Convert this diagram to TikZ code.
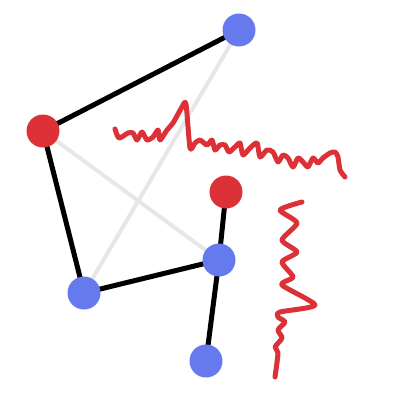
\documentclass[tikz,border=0pt]{standalone}
\definecolor{nblue}{RGB}{102,122,238}
\definecolor{nred}{RGB}{220,50,55}
\definecolor{lgray}{RGB}{232,230,230}
\begin{document}
\begin{tikzpicture}[x=1pt,y=-1pt,
  vb/.style={circle,fill=nblue,inner sep=0pt,minimum size=33pt},
  vr/.style={circle,fill=nred,inner sep=0pt,minimum size=33pt},
  edge/.style={black,line width=5pt},
  faint/.style={lgray,line width=4pt},
  scrib/.style={nred,line width=5pt,line cap=round,line join=round}]
\useasboundingbox (0,0) rectangle (400,400);
\coordinate (v1) at (239,30);
\coordinate (v2) at (43,131);
\coordinate (v3) at (226,192);
\coordinate (v4) at (219,260);
\coordinate (v5) at (84,293);
\coordinate (v6) at (206,361);
\draw[faint] (v2) -- (v4);
\draw[faint] (v5) -- (v1);
\draw[edge] (v2) -- (v1);
\draw[edge] (v2) -- (v5);
\draw[edge] (v5) -- (v4);
\draw[edge] (v4) -- (v3);
\draw[edge] (v4) -- (v6);
\node[vb] (n1) at (v1) {};
\node[vr] (n2) at (v2) {};
\node[vr] (n3) at (v3) {};
\node[vb] (n4) at (v4) {};
\node[vb] (n5) at (v5) {};
\node[vb] (n6) at (v6) {};
\draw[scrib] plot[smooth,tension=0.4] coordinates {(115,129) (119,138) (128,133) (133,133) (137,140) (142,132) (147,140) (153,137) (158,130) (160,140) (167,130) (173,123) (182,107) (186,104) (190,148) (195,143) (200,140) (207,145) (212,140) (215,150) (220,145) (225,145) (229,152) (235,147) (240,143) (243,155) (250,148) (257,143) (260,157) (267,150) (273,152) (278,162) (283,155) (288,158) (293,167) (298,158) (303,162) (308,167) (313,158) (318,163) (323,158) (330,153) (335,152) (338,157) (340,170) (345,177)};
\draw[scrib] plot[smooth,tension=0.4] coordinates {(302,202) (280,210) (297,223) (282,240) (297,252) (282,262) (293,277) (282,285) (315,305) (280,312) (278,317) (285,322) (278,330) (282,338) (275,347) (278,353) (275,377)};
\end{tikzpicture}
\end{document}
